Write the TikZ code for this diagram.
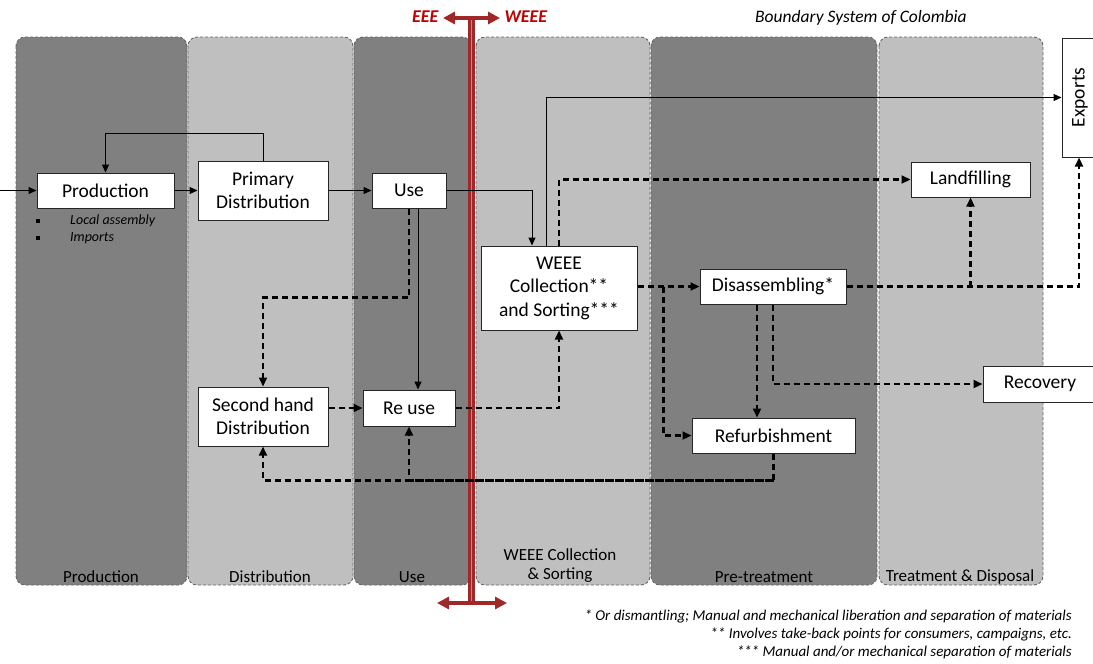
\documentclass[tikz,border=0pt]{standalone}
\usepackage{fontspec}
\setmainfont{Carlito}
\usetikzlibrary{arrows.meta}
\colorlet{dkp}{black!50}
\colorlet{ltp}{black!25}
\definecolor{bred}{RGB}{160,40,40}
\definecolor{pred}{RGB}{205,130,130}
\definecolor{tred}{RGB}{192,0,0}
\tikzset{
    lane/.style={draw=black!60,dash pattern=on 3pt off 2pt,rounded corners=9pt,line width=0.9pt},
    box/.style={draw=black!85,fill=white,line width=1pt,inner sep=0pt,align=center,font=\fontsize{19.5}{23.5}\selectfont},
    lbl/.style={font=\fontsize{17}{19}\selectfont,align=center},
    note/.style={font=\fontsize{15}{18}\selectfont\itshape,anchor=east,inner sep=0pt},
    flow/.style={black,line width=1pt,-{Triangle[length=8pt,width=7pt]}},
    back/.style={black,line width=2.2pt,dash pattern=on 6pt off 4pt,-{Triangle[length=9pt,width=8pt]}},
    bnd/.style={draw=bred,line width=2.5pt,double=pred,double distance=1.5pt},
    bndarr/.style={bred,line width=4pt,{Triangle[length=12pt,width=12pt]}-{Triangle[length=12pt,width=12pt]}}
}
\begin{document}
\begin{tikzpicture}[x=1pt,y=-1pt]
    \useasboundingbox (0,0) rectangle (1093,664);
    \foreach \xa/\xb/\c in {16/187/dkp,188/353/ltp,354/471/dkp,476/650/ltp,651/877/dkp,879/1043/ltp} {
        \draw[lane,fill=\c] (\xa,37) rectangle (\xb,585);
    }
    \foreach \x/\t [count=\i] in {101/Production,270/Distribution,412/Use,764/Pre-treatment,960/Treatment \& Disposal} {
        \node[lbl] (lb\i) at (\x,577) {\t};
    }
    \node[lbl] (lbcol) at (560,566) {WEEE Collection\\\& Sorting};

    \draw[bnd] (471.5,18) -- (471.5,603);
    \draw[bndarr] (443,18) -- (500,18);
    \draw[bndarr] (437,603) -- (507,603);
    \node[font=\fontsize{18}{20}\selectfont\bfseries\itshape,text=tred,anchor=east] (eee) at (442,17) {EEE};
    \node[font=\fontsize{18}{20}\selectfont\bfseries\itshape,text=tred,anchor=west] (weee) at (501,17) {WEEE};
    \node[font=\fontsize{17.5}{19}\selectfont\itshape] (title) at (861,18) {Boundary System of Colombia};

    \node[box,minimum width=137,minimum height=35] (production) at (105.5,190.5) {Production};
    \node[box,minimum width=130,minimum height=59] (primdist) at (263,190.5) {Primary\\Distribution};
    \node[box,minimum width=74,minimum height=35] (use) at (409,190.5) {Use};
    \node[box,minimum width=156,minimum height=84] (collect) at (559,288) {WEEE\\Collection**\\and Sorting***};
    \node[box,minimum width=146,minimum height=35] (disasm) at (773,286.5) {Disassembling*};
    \node[box,minimum width=119,minimum height=35] (landfill) at (970.5,179.5) {Landfilling};
    \node[box,minimum width=36,minimum height=119] (exports) at (1080,97.5) {\rotatebox{90}{Exports}};
    \node[box,minimum width=114,minimum height=36] (recovery) at (1040,384) {Recovery};
    \node[box,minimum width=130,minimum height=59] (sechand) at (263,416.5) {Second hand\\Distribution};
    \node[box,minimum width=92,minimum height=36] (reuse) at (409,408) {Re use};
    \node[box,minimum width=163,minimum height=35] (refurb) at (773.5,435.5) {Refurbishment};

    \node[font=\fontsize{14}{16}\selectfont,anchor=west,inner sep=0pt] (local) at (36,221) {\rule[1.5pt]{4pt}{4pt}\hspace{30pt}\textit{Local assembly}};
    \node[font=\fontsize{14}{16}\selectfont,anchor=west,inner sep=0pt] (imports) at (36,238) {\rule[1.5pt]{4pt}{4pt}\hspace{30pt}\textit{Imports}};

    \coordinate (in) at (0,190.5);
    \draw[flow] (in) -- (production.west);
    \draw[flow] (production.east) -- (primdist.west);
    \draw[flow] (primdist.north) -- ++(0,-27) -| (production.north);
    \draw[flow] (primdist.east) -- (use.west);
    \draw[flow] (use.east) -| ([xshift=-27pt]collect.north);
    \draw[flow] ([xshift=-13pt]collect.north) |- (exports.west);
    \draw[flow] ([xshift=9pt]use.south) -- ([xshift=9pt]reuse.north);

    \draw[back] (use.south) -- ++(0,89) -| (sechand.north);
    \draw[back] (sechand.east |- reuse.west) -- (reuse.west);
    \draw[back] (reuse.east) -| (collect.south);
    \draw[back] (collect.north) |- (landfill.west);
    \draw[back] (collect.east |- disasm.west) -- (disasm.west);
    \draw[back] ([xshift=-36pt]disasm.west) |- (refurb.west);
    \draw[back] ([xshift=-16pt]disasm.south) -- ([xshift=-16pt]disasm.south |- refurb.north);
    \draw[back] (disasm.south) |- (recovery.west);
    \draw[back] (disasm.east) -| ([xshift=-1pt]exports.south);
    \draw[back] (landfill.south |- disasm.east) -- (landfill.south);
    \draw[back] (refurb.south) -- ++(0,27) -| (sechand.south);
    \draw[back] (refurb.south) ++(0,27) -| (reuse.south);

    \node[note] (fn1) at (1072,616) {* Or dismantling; Manual and mechanical liberation and separation of materials};
    \node[note] (fn2) at (1072,634) {** Involves take-back points for consumers, campaigns, etc.};
    \node[note] (fn3) at (1072,652) {*** Manual and/or mechanical separation of materials};
\end{tikzpicture}
\end{document}
